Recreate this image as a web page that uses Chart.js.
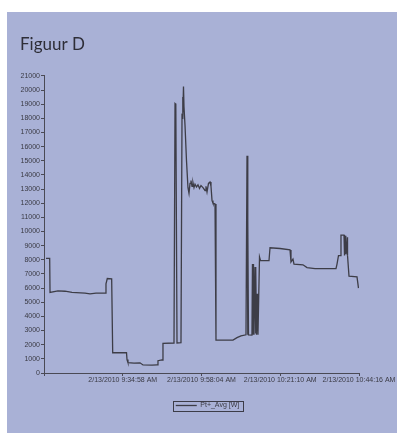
<!DOCTYPE html>
<html>
<head>
<meta charset="utf-8">
<script src="https://cdn.jsdelivr.net/npm/chart.js@4/dist/chart.umd.min.js"></script>
<style>
  html, body { margin: 0; padding: 0; background: #ffffff; }
  #panel { position: absolute; left: 7px; top: 12px; width: 390px; height: 421px; background: #a9b1d6; }
  canvas { display: block; }
</style>
</head>
<body>
<div id="panel"><canvas id="chart" width="390" height="421"></canvas></div>
<script>
// Power readings on 2/13/2010; time is counted in seconds from 9:11:52 AM.
const startClock = { h: 9, m: 11, s: 52 };
const elapsedSec = [
  35, 100, 106, 246, 370, 493, 722, 810, 915, 1074, 1091, 1114, 1191, 1209,
  1452, 1461, 1478, 1584, 1690, 1742, 1901, 1989, 2006, 2077, 2094, 2288,
  2306, 2320, 2341, 2411, 2429, 2440, 2446, 2455, 2464, 2482, 2508, 2534,
  2552, 2570, 2587, 2605, 2622, 2640, 2658, 2684, 2710, 2737, 2763, 2798,
  2834, 2851, 2869, 2895, 2922, 2939, 2957, 2974, 3010, 3027, 3326, 3397,
  3467, 3555, 3573, 3583, 3590, 3599, 3660, 3669, 3678, 3687, 3696, 3714,
  3722, 3731, 3740, 3749, 3766, 3793, 3810, 3960, 3978, 4154, 4330, 4347,
  4382, 4400, 4558, 4629, 4770, 5139, 5157, 5183, 5210, 5227, 5280, 5289,
  5298, 5306, 5315, 5333, 5338, 5346, 5368, 5509, 5535
];
const powerAvgW = [
  8100, 8100, 5700, 5800, 5780, 5700, 5650, 5600, 5640, 5650, 6300, 6680, 6650, 1430,
  1430, 950, 730, 700, 720, 570, 560, 580, 870, 920, 2100, 2120,
  19050, 19000, 2120, 2150, 18200, 19500, 18100, 20250, 18800, 17500, 15000, 13100,
  12700, 13400, 13600, 13200, 13450, 13100, 13350, 13150, 13300, 13050, 13250, 13100,
  12900, 13200, 12800, 13400, 13500, 13200, 12200, 12000, 11950, 2330, 2330, 2500,
  2620, 2700, 15350, 2700, 10800, 2700, 2680, 7700, 2700, 7700, 2700, 7500,
  2800, 7400, 2700, 5600, 2700, 8200, 7950, 7950, 8850, 8800, 8700, 7850,
  8050, 7700, 7650, 7450, 7380, 7380, 7700, 8300, 8300, 9750, 9750, 8300,
  9700, 8400, 9700, 8500, 9600, 8300, 6850, 6800, 6000
];
const seriesName = 'Pt+_Avg [W]';
const timeTickStep = 1386;      // 23 min 06 s between labelled ticks
const timeAxisMax = 5544;
const powerTickStep = 1000;
const powerAxisMax = 21000;

function clockLabel(sec) {
  let total = startClock.h * 3600 + startClock.m * 60 + startClock.s + Math.round(sec);
  const h24 = Math.floor(total / 3600) % 24;
  const m = Math.floor(total / 60) % 60;
  const s = total % 60;
  const ampm = h24 < 12 ? 'AM' : 'PM';
  const h12 = h24 % 12 === 0 ? 12 : h24 % 12;
  return '2/13/2010 ' + h12 + ':' + String(m).padStart(2, '0') + ':' + String(s).padStart(2, '0') + ' ' + ampm;
}

const axisColor = '#4a4a55';
const textColor = '#3a3a44';
const tickFont = { family: '"Liberation Sans", Arial, sans-serif', size: 7 };

// Moves the legend to the right and frames it with a thin box.
const legendFrame = {
  id: 'legendFrame',
  afterLayout(chart) {
    const lg = chart.legend;
    if (lg) { lg.left += 18; lg.right += 18; }
  },
  afterDraw(chart) {
    const lg = chart.legend;
    if (!lg || !lg.legendHitBoxes || !lg.legendHitBoxes.length) return;
    const hb = lg.legendHitBoxes[0];
    const midY = hb.top + hb.height / 2;
    const ctx = chart.ctx;
    ctx.save();
    ctx.strokeStyle = '#3c3c48';
    ctx.lineWidth = 1;
    ctx.strokeRect(Math.round(hb.left - 3) + 0.5, Math.round(midY - 5) + 0.5, Math.round(hb.width + 7), 10);
    ctx.restore();
  }
};

new Chart(document.getElementById('chart'), {
  type: 'line',
  data: {
    datasets: [{
      label: seriesName,
      data: elapsedSec.map((t, i) => ({ x: t, y: powerAvgW[i] })),
      borderColor: '#3d3d47',
      backgroundColor: '#3d3d47',
      borderWidth: 1.3,
      pointRadius: 0,
      tension: 0,
      fill: false
    }]
  },
  options: {
    responsive: false,
    animation: false,
    events: [],
    layout: { padding: { left: 13, right: 38, top: 0, bottom: 14 } },
    plugins: {
      title: {
        display: true,
        text: 'Figuur D',
        align: 'start',
        color: '#2e2e38',
        font: { family: 'Lato, "Open Sans", sans-serif', size: 17, weight: 'normal' },
        padding: { top: 22.5, bottom: 21 }
      },
      legend: {
        display: true,
        position: 'bottom',
        labels: {
          color: textColor,
          font: tickFont,
          usePointStyle: true,
          pointStyle: 'line',
          pointStyleWidth: 21,
          boxHeight: 7,
          padding: 5
        }
      },
      tooltip: { enabled: false }
    },
    scales: {
      x: {
        type: 'linear',
        min: 0,
        max: timeAxisMax,
        afterFit(scale) { scale.height = 24; },
        border: { display: true, color: axisColor, width: 1 },
        grid: { drawOnChartArea: false, drawTicks: true, tickLength: 3, color: axisColor },
        ticks: {
          stepSize: timeTickStep,
          autoSkip: false,
          minRotation: 0,
          maxRotation: 0,
          padding: 0,
          color: textColor,
          font: tickFont,
          callback: (v) => (v === 0 ? '' : clockLabel(v))
        }
      },
      y: {
        min: 0,
        max: powerAxisMax,
        afterFit(scale) { scale.width = 24; },
        border: { display: true, color: axisColor, width: 1 },
        grid: { drawOnChartArea: false, drawTicks: true, tickLength: 3, color: axisColor },
        ticks: {
          stepSize: powerTickStep,
          autoSkip: false,
          padding: 1,
          color: textColor,
          font: tickFont,
          callback: (v) => String(v)
        }
      }
    }
  },
  plugins: [legendFrame]
});
</script>
</body>
</html>
